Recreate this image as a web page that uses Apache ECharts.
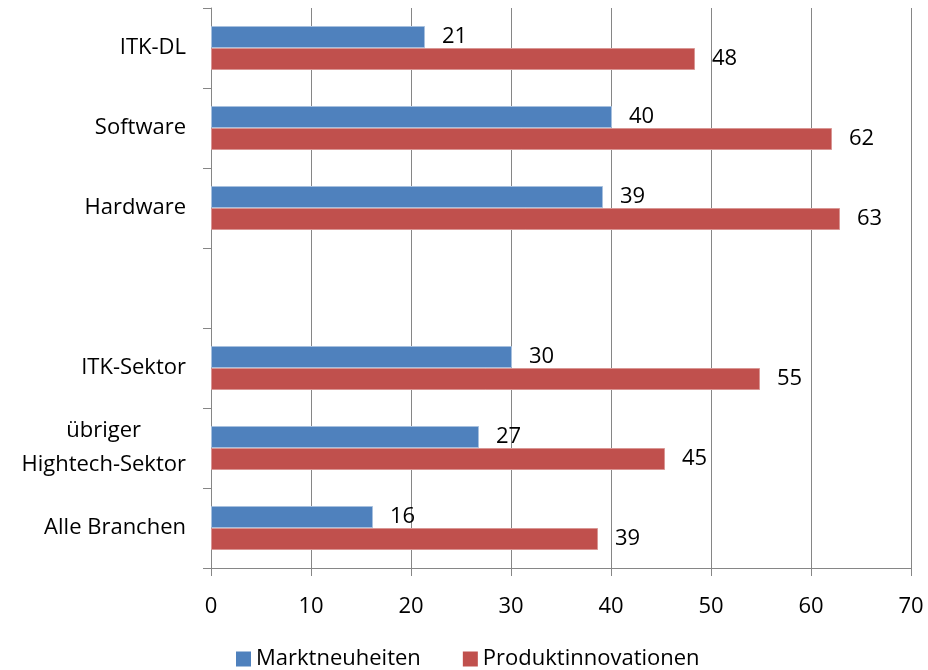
<!DOCTYPE html>
<html>
<head>
<meta charset="utf-8">
<script src="https://cdn.jsdelivr.net/npm/echarts@6/dist/echarts.min.js"></script>
<style>
  html, body { margin: 0; padding: 0; background: #fff; }
  #chart { width: 928px; height: 670px; }
</style>
</head>
<body>
<div id="chart"></div>
<script>
// categories from bottom to top (the empty one is the gap between the groups)
var categories = ['Alle Branchen', 'übriger\nHightech-Sektor', 'ITK-Sektor', '', 'Hardware', 'Software', 'ITK-DL'];
var marktneuheiten = [16.2, 26.8, 30.1, null, 39.2, 40.1, 21.4];
var produktinnovationen = [38.7, 45.4, 54.9, null, 62.9, 62.1, 48.4];
var xTicks = [0, 70, 10]; // min, max, interval

var font = '"Open Sans", sans-serif';
var fs = 22;

var chart = echarts.init(document.getElementById('chart'));

var option = {
  animation: false,
  textStyle: { fontFamily: font },
  grid: { left: 211, right: 17, top: 8, bottom: 102 },
  legend: {
    top: 643,
    left: 231,
    data: ['Marktneuheiten', 'Produktinnovationen'],
    itemWidth: 15,
    itemHeight: 15,
    itemGap: 42,
    icon: 'rect',
    itemStyle: { borderWidth: 0 },
    textStyle: { fontSize: fs, color: '#000', fontFamily: font }
  },
  xAxis: {
    type: 'value',
    min: xTicks[0],
    max: xTicks[1],
    interval: xTicks[2],
    axisLine: { show: true, lineStyle: { color: '#868686' } },
    axisTick: { show: true, length: 8, lineStyle: { color: '#868686' } },
    splitLine: { show: true, lineStyle: { color: '#868686' } },
    axisLabel: { fontSize: fs, color: '#000', margin: 28 }
  },
  yAxis: {
    type: 'category',
    data: categories,
    axisLine: { show: true, lineStyle: { color: '#868686' } },
    axisTick: { show: true, length: 8, lineStyle: { color: '#868686' } },
    axisLabel: {
      fontSize: fs,
      color: '#000',
      margin: 25,
      lineHeight: 34,
      formatter: function (v) {
        if (v.indexOf('\n') < 0) return v;
        return v.split('\n').map(function (s) { return '{c|' + s + '}'; }).join('\n');
      },
      rich: {
        c: { fontSize: fs, color: '#000', align: 'center', lineHeight: 34 }
      }
    }
  },
  series: [
    {
      name: 'Marktneuheiten',
      type: 'bar',
      data: marktneuheiten,
      barWidth: 22,
      barGap: '0%',
      itemStyle: { color: '#4F81BD', borderColor: '#A7C0DE', borderWidth: 1 },
      label: {
        show: true, position: 'right', distance: 17, fontSize: fs, color: '#000',
        formatter: function (p) { return Math.round(p.value); }
      }
    },
    {
      name: 'Produktinnovationen',
      type: 'bar',
      data: produktinnovationen,
      barWidth: 22,
      barGap: '0%',
      itemStyle: { color: '#C0504D', borderColor: '#D99694', borderWidth: 1 },
      label: {
        show: true, position: 'right', distance: 17, fontSize: fs, color: '#000',
        formatter: function (p) { return Math.round(p.value); }
      }
    }
  ]
};

chart.setOption(option);
</script>
</body>
</html>
